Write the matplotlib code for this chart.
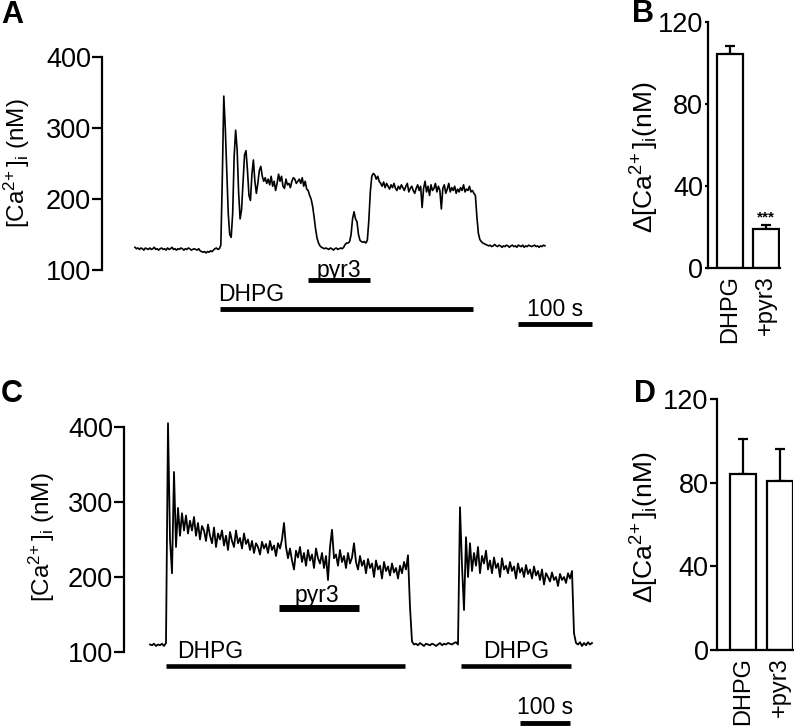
import numpy as np
import matplotlib
matplotlib.use('Agg')
import matplotlib.pyplot as plt

plt.rcParams['font.family'] = 'Liberation Sans'
plt.rcParams['mathtext.fontset'] = 'custom'
plt.rcParams['mathtext.rm'] = 'Liberation Sans'
plt.rcParams['mathtext.it'] = 'Liberation Sans:italic'
plt.rcParams['mathtext.default'] = 'regular'

# ---- data ----
# panel A trace, one sample every 2 s
dt_a = 2
ca_a = [132, 130, 131, 129, 131, 130, 128, 131, 130, 129,
        131, 129, 130, 132, 129, 130, 128, 130, 131, 129,
        130, 128, 131, 129, 130, 132, 129, 130, 128, 130,
        129, 131, 130, 128, 130, 129, 131, 130, 128, 129,
        130, 129, 128, 130, 127, 126, 125, 126, 124, 126,
        125, 127, 126, 128, 130, 131, 129, 130, 135, 230,
        345, 300, 240, 180, 150, 146, 180, 260, 297, 270,
        210, 172, 185, 225, 262, 268, 240, 205, 198, 235,
        255, 225, 208, 222, 240, 246, 232, 225, 230, 222,
        228, 220, 232, 218, 225, 212, 222, 235, 225, 232,
        218, 215, 228, 220, 222, 216, 225, 230, 228, 222,
        225, 228, 222, 230, 218, 225, 214, 212, 205, 200,
        190, 175, 158, 145, 138, 134, 132, 131, 130, 131,
        130, 129, 131, 130, 128, 130, 131, 129, 130, 131,
        130, 132, 136, 138, 138, 140, 150, 172, 182, 172,
        168, 150, 142, 140, 139, 140, 138, 142, 170, 210,
        232, 236, 234, 228, 232, 225, 222, 218, 224, 216,
        222, 218, 214, 220, 216, 222, 215, 212, 218, 214,
        220, 216, 212, 218, 222, 210, 215, 218, 212, 208,
        215, 220, 212, 218, 188, 215, 225, 210, 218, 205,
        220, 212, 215, 222, 210, 218, 212, 186, 215, 220,
        208, 214, 222, 210, 216, 212, 218, 208, 214, 210,
        216, 212, 220, 210, 214, 212, 218, 210, 212, 208,
        205, 175, 152, 143, 140, 138, 137, 136, 135, 134,
        135, 133, 134, 136, 134, 133, 135, 134, 132, 134,
        133, 135, 134, 132, 134, 135, 133, 134, 132, 135,
        134, 133, 135, 132, 134, 133, 135, 134, 133, 134,
        135, 133, 134, 132, 134, 133, 135, 134]
dhpg_a = (115, 457)
pyr3_a = (234, 318)
scale_a = (518, 618)

# panel C trace, one sample every 4 s
dt_c = 4
ca_c = [110, 109, 111, 108, 110, 109, 111, 108, 112, 405,
        250, 205, 340, 240, 292, 255, 285, 262, 282, 258,
        275, 262, 280, 255, 272, 250, 268, 262, 248, 270,
        255, 245, 266, 240, 258, 250, 262, 242, 255, 236,
        260, 248, 240, 262, 245, 252, 238, 258, 244, 250,
        236, 248, 232, 245, 240, 230, 247, 238, 244, 232,
        248, 236, 242, 228, 245, 238, 250, 272, 240, 225,
        238, 222, 210, 235, 226, 240, 220, 232, 215, 236,
        222, 230, 212, 238, 225, 218, 232, 212, 228, 196,
        240, 263, 225, 230, 215, 236, 220, 228, 212, 232,
        218, 226, 245, 220, 210, 228, 215, 222, 205, 224,
        212, 218, 200, 222, 210, 215, 198, 220, 208, 214,
        202, 218, 206, 212, 198, 215, 205, 220, 210, 229,
        160, 114, 110, 111, 109, 112, 110, 108, 111, 110,
        109, 111, 110, 108, 110, 112, 109, 111, 110, 112,
        111, 110, 112, 113, 110, 293, 215, 156, 253, 200,
        245, 208, 232, 215, 240, 205, 228, 218, 235, 210,
        222, 205, 226, 212, 218, 200, 225, 210, 215, 205,
        220, 208, 214, 198, 218, 206, 212, 200, 216, 204,
        210, 198, 214, 202, 208, 196, 210, 190, 205, 200,
        194, 206, 196, 200, 188, 204, 196, 200, 192, 205,
        198, 208, 125, 112, 110, 113, 108, 112, 109, 113,
        110, 112]
dhpg_c1 = (32, 510)
dhpg_c2 = (622, 842)
pyr3_c = (258, 418)
scale_c = (740, 840)

# bar charts
groups = ['DHPG', '+pyr3']
mean_b = [104.5, 19]
sem_b = [4, 2]
mean_d = [84, 81]
sem_d = [17, 15]

W, H = 794, 727


def box(x0, y0, x1, y1):
    return [x0 / W, 1 - y1 / H, (x1 - x0) / W, (y1 - y0) / H]


def trace_axes(ax):
    for s in ['top', 'right', 'bottom']:
        ax.spines[s].set_visible(False)
    ax.spines['left'].set_bounds(100, 400)
    ax.spines['left'].set_linewidth(1.6)
    ax.set_xticks([])
    ax.set_yticks([100, 200, 300, 400])
    ax.tick_params(axis='y', labelsize=19.5, length=7, width=1.6, pad=1)


def hbar(ax, span, y, lw=3.5):
    ax.plot(span, [y, y], color='k', lw=lw, solid_capstyle='butt', clip_on=False)


def bar_axes(ax, means, sems, ticklen):
    x = np.arange(len(means))
    ax.bar(x, means, width=0.7, color='white', edgecolor='k', linewidth=1.6, zorder=2)
    ax.errorbar(x, means, yerr=[np.zeros(len(sems)), sems], fmt='none',
                ecolor='k', elinewidth=1.6, capsize=3.5, capthick=1.6, zorder=1)
    for s in ['top', 'right']:
        ax.spines[s].set_visible(False)
    ax.spines['left'].set_bounds(0, 120)
    ax.spines['left'].set_linewidth(1.6)
    ax.spines['bottom'].set_linewidth(1.6)
    ax.set_yticks([0, 40, 80, 120])
    ax.tick_params(axis='y', labelsize=19.5, length=ticklen, width=1.6, pad=1)
    ax.set_xticks(x)
    ax.set_xticklabels(groups, rotation=90, fontsize=17)
    ax.tick_params(axis='x', length=0, pad=5)


fig = plt.figure(figsize=(W / 100, H / 100), dpi=100)

# A
ax = fig.add_axes(box(102, 50, 600, 335))
t_a = np.arange(len(ca_a)) * dt_a
ax.plot(t_a, ca_a, color='k', lw=1.2)
ax.set_xlim(-44.6, 628.4)
ax.set_ylim(8.45, 409.9)
trace_axes(ax)
hbar(ax, dhpg_a, 45)
ax.text(dhpg_a[0] - 3, 66, 'DHPG', fontsize=16.5, ha='left', va='center')
hbar(ax, pyr3_a, 86)
ax.text(np.mean(pyr3_a), 100, 'pyr3', fontsize=16.5, ha='center', va='center')
hbar(ax, scale_a, 24)
ax.text(np.mean(scale_a), 44, '100 s', fontsize=16.5, ha='center', va='center')

# C
ax = fig.add_axes(box(124, 420, 600, 727))
t_c = np.arange(len(ca_c)) * dt_c
ax.plot(t_c, ca_c, color='k', lw=1.3)
ax.set_xlim(-52, 900)
ax.set_ylim(0, 409.3)
trace_axes(ax)
hbar(ax, dhpg_c1, 81, lw=3.3)
ax.text(dhpg_c1[0] + 22, 100, 'DHPG', fontsize=16.5, ha='left', va='center')
hbar(ax, pyr3_c, 159, lw=5)
ax.text(np.mean(pyr3_c) - 4, 175, 'pyr3', fontsize=16.5, ha='center', va='center')
hbar(ax, dhpg_c2, 81, lw=3.3)
ax.text(np.mean(dhpg_c2), 100, 'DHPG', fontsize=16.5, ha='center', va='center')
hbar(ax, scale_c, 5, lw=3.5)
ax.text(np.mean(scale_c), 26, '100 s', fontsize=16.5, ha='center', va='center')

# B
ax = fig.add_axes(box(708, 20, 780, 268))
bar_axes(ax, mean_b, sem_b, 2.5)
ax.set_xlim(-0.61, 1.39)
ax.set_ylim(0, 121)
ax.text(1, 24.5, '***', fontsize=11, fontweight='bold', ha='center', va='center')

# D
ax = fig.add_axes(box(717, 397, 793, 650))
bar_axes(ax, mean_d, sem_d, 5)
ax.set_xlim(-0.70, 1.35)
ax.set_ylim(0, 121)

# y labels and panel letters
lab = r'[Ca$^{2\!+}$]$_{\rm i}$ (nM)'
dlab = r'$\Delta$[Ca$^{2\!+}$]$_{\rm i}$(nM)'
fig.text(17 / W, 1 - 163 / H, lab, fontsize=17.5, rotation=90, ha='center', va='center')
fig.text(42 / W, 1 - 537 / H, lab, fontsize=17.5, rotation=90, ha='center', va='center')
fig.text(645 / W, 1 - 157 / H, dlab, fontsize=19, rotation=90, ha='center', va='center')
fig.text(645 / W, 1 - 527 / H, dlab, fontsize=19, rotation=90, ha='center', va='center')
for letter, px, py in [('A', 12, 15), ('B', 643, 14), ('C', 12, 394), ('D', 645, 394)]:
    fig.text(px / W, 1 - py / H, letter, fontsize=22, fontweight='bold',
             ha='center', va='center')

plt.savefig('out.png', dpi=100)
plt.close()
